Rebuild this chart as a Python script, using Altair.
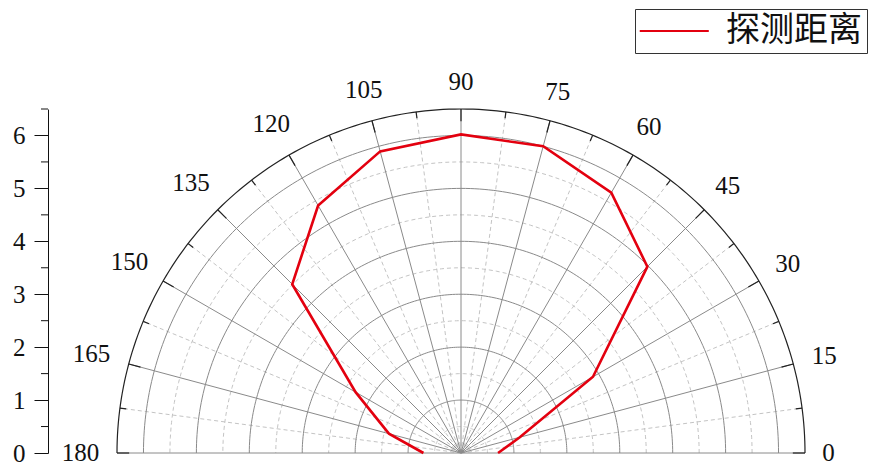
import altair as alt
import pandas as pd

# ---- data ----
angles = [0, 15, 30, 45, 60, 75, 90, 105, 120, 135, 150, 165, 180]
distances = [0.70, 1.15, 2.88, 4.98, 5.68, 6.00, 6.02, 5.90, 5.40, 4.51, 2.30, 1.41, 0.71]
series_name = "探测距离"
angle_labels = ["0", "15", "30", "45", "60", "75", "90", "105", "120", "135", "150", "165", "180"]
y_ticks = [0, 1, 2, 3, 4, 5, 6]
y_minor_ticks = [0.5, 1.5, 2.5, 3.5, 4.5, 5.5, 6.5]
r_max = 6.5
major_radii = [1, 2, 3, 4, 5, 6]
minor_radii = [0.5, 1.5, 2.5, 3.5, 4.5, 5.5]
major_spokes = [0, 15, 30, 45, 60, 75, 90, 105, 120, 135, 150, 165, 180]
minor_spokes = [7.5, 22.5, 37.5, 52.5, 67.5, 82.5, 97.5, 112.5, 127.5, 142.5, 157.5, 172.5]

W, H = 688, 344
PX_PER_UNIT = H / r_max
xs = alt.Scale(domain=[-r_max, r_max], nice=False, zero=False)
ys = alt.Scale(domain=[0, r_max], nice=False, zero=False)
SERIF = "Liberation Serif"

YAX = alt.Axis(
    values=y_ticks, offset=69, tickSize=14, title=None, grid=False,
    domainColor="#111111", tickColor="#111111", domainWidth=1, tickWidth=1,
    labelFont=SERIF, labelFontSize=25, labelColor="#111111", labelPadding=9,
)

def polar(ch):
    return ch.transform_calculate(
        px="datum.r*cos(datum.t*PI/180)", py="datum.r*sin(datum.t*PI/180)"
    )

def XY():
    return dict(x=alt.X("px:Q", scale=xs, axis=None), y=alt.Y("py:Q", scale=ys, axis=YAX))

arc_steps = list(range(0, 181))
minor_circ_df = pd.DataFrame([(r, t) for r in minor_radii for t in arc_steps], columns=["r", "t"])
major_circ_df = pd.DataFrame([(r, t) for r in major_radii for t in arc_steps], columns=["r", "t"])
outer_df = pd.DataFrame([(r_max, t) for t in arc_steps], columns=["r", "t"])

minor_circ = polar(alt.Chart(minor_circ_df)).mark_line(
    stroke="#c4c4c4", strokeWidth=1, strokeDash=[4, 3]
).encode(**XY(), detail="r:N", order="t:Q")
major_circ = polar(alt.Chart(major_circ_df)).mark_line(
    stroke="#8a8a8a", strokeWidth=1
).encode(**XY(), detail="r:N", order="t:Q")
outer_circ = polar(alt.Chart(outer_df)).mark_line(
    stroke="#222222", strokeWidth=1.2
).encode(**XY(), order="t:Q")

def spokes(vals, r0, r1):
    return pd.DataFrame({"t": vals, "r0": r0, "r1": r1})

def spoke_layer(df, **mk):
    return alt.Chart(df).transform_calculate(
        xa="datum.r0*cos(datum.t*PI/180)", ya="datum.r0*sin(datum.t*PI/180)",
        xb="datum.r1*cos(datum.t*PI/180)", yb="datum.r1*sin(datum.t*PI/180)",
    ).mark_rule(**mk).encode(
        x=alt.X("xa:Q", scale=xs, axis=None), y=alt.Y("ya:Q", scale=ys, axis=YAX),
        x2="xb:Q", y2="yb:Q",
    )

minor_sp = spoke_layer(spokes(minor_spokes, 0, r_max), stroke="#c4c4c4", strokeWidth=1, strokeDash=[4, 3])
major_sp = spoke_layer(spokes(major_spokes, 0, r_max), stroke="#8a8a8a", strokeWidth=1)
major_tk = spoke_layer(spokes(major_spokes, r_max - 0.23, r_max), stroke="#222222", strokeWidth=1.2)
minor_tk = spoke_layer(spokes(minor_spokes, r_max - 0.12, r_max), stroke="#222222", strokeWidth=1.2)

# angle labels: placed just outside the outer arc, pushed out by half their box
lab_df = pd.DataFrame({"t": angles, "lab": angle_labels})
labels = alt.Chart(lab_df).transform_calculate(
    r=f"{r_max} + (17 + abs(cos(datum.t*PI/180))*length(datum.lab)*6.5 + abs(sin(datum.t*PI/180))*10)/{PX_PER_UNIT}"
).transform_calculate(
    px="datum.r*cos(datum.t*PI/180)", py="datum.r*sin(datum.t*PI/180)"
).mark_text(
    font=SERIF, fontSize=25, color="#111111", align="center", baseline="middle"
).encode(**XY(), text="lab:N")

data_df = pd.DataFrame({"t": angles, "r": distances, "series": series_name})
curve = polar(alt.Chart(data_df)).mark_line(strokeWidth=2.6).encode(
    **XY(),
    order="t:Q",
    color=alt.Color("series:N", scale=alt.Scale(domain=[series_name], range=["#e3000f"]),
                    legend=alt.Legend(
                        orient="none", legendX=518, legendY=-100, title=None,
                        symbolType="M-2,0H6", symbolSize=298, symbolStrokeWidth=2.2,
                        labelFont="Noto Sans CJK SC", labelFontSize=34, labelColor="#111111",
                        labelOffset=52, padding=5, strokeColor="#333333", fillColor="white",
                        cornerRadius=0,
                    )),
)

ytick_df = pd.DataFrame({"v": y_minor_ticks})
yminor = alt.Chart(ytick_df).mark_rule(stroke="#111111", strokeWidth=1).encode(
    y=alt.Y("v:Q", scale=ys, axis=YAX), x=alt.value(-76), x2=alt.value(-69)
)

chart = alt.layer(
    minor_circ, minor_sp, major_circ, major_sp, outer_circ, major_tk, minor_tk,
    labels, yminor, curve
).properties(
    width=W, height=H,
    autosize=alt.AutoSizeParams(type="none"),
    padding={"left": 117, "top": 109, "right": 64, "bottom": 13},
    background="white",
).configure_view(stroke=None)

chart.save("out.html", embed_options={"renderer": "svg", "actions": False})
